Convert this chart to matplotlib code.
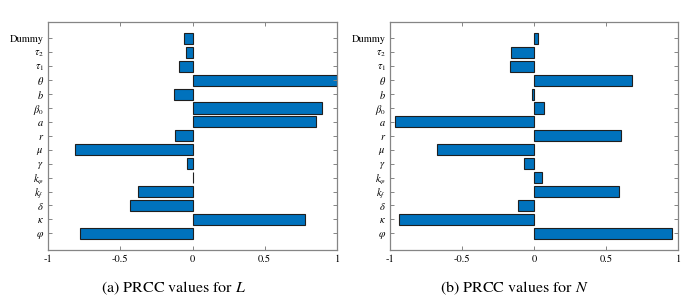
import matplotlib
matplotlib.use("Agg")
import matplotlib.pyplot as plt
import numpy as np

plt.rcParams['mathtext.fontset'] = 'stix'
plt.rcParams['font.family'] = ['STIXGeneral', 'DejaVu Serif']

params = ['$\\varphi$', '$\\kappa$', '$\\delta$', '$k_f$', '$k_\\varphi$', '$\\gamma$', '$\\mu$',
          '$r$', '$a$', '$\\beta_0$', '$b$', '$\\theta$', '$\\tau_1$', '$\\tau_2$', 'Dummy']
prcc_L = [-0.778, 0.778, -0.43, -0.375, 0.005, -0.036, -0.815,
          -0.123, 0.853, 0.896, -0.126, 1.0, -0.09, -0.042, -0.059]
prcc_N = [0.958, -0.94, -0.108, 0.59, 0.059, -0.068, -0.675,
          0.606, -0.965, 0.071, -0.017, 0.68, -0.17, -0.16, 0.027]
xticks = [-1, -0.5, 0, 0.5, 1]
xticklabels = ['-1', '-0.5', '0', '0.5', '1']
captions = [('(a) PRCC values for ', 'L'), ('(b) PRCC values for ', 'N')]

fig = plt.figure(figsize=(6.84, 3.03), dpi=100)
axes_pos = [[48/684, 53/303, 289/684, 228.3/303],
            [390/684, 53/303, 288/684, 228.3/303]]
cap_x = [174/684, 514/684]
frame = '#858585'
pos = np.arange(1, len(params) + 1)

for i, vals in enumerate([prcc_L, prcc_N]):
    ax = fig.add_axes(axes_pos[i])
    ax.barh(pos, vals, height=0.8, color='#0072BD', edgecolor='#1f1f1f', linewidth=0.8)
    ax.set_xlim(-1, 1)
    ax.set_ylim(-0.2, 16.2)
    ax.set_yticks(pos)
    ax.set_yticklabels(params, fontsize=7.5)
    ax.set_xticks(xticks)
    ax.set_xticklabels(xticklabels, fontsize=7.5)
    ax.tick_params(direction='in', length=3, width=0.7, color=frame,
                   top=True, right=True, pad=3)
    for s in ax.spines.values():
        s.set_color(frame)
        s.set_linewidth(0.9)
    t, v = captions[i]
    fig.text(cap_x[i], 1 - 288/303, t + '$\\mathit{' + v + '}$', ha='center', va='center', fontsize=11.5)

fig.savefig('out.png', dpi=100)
